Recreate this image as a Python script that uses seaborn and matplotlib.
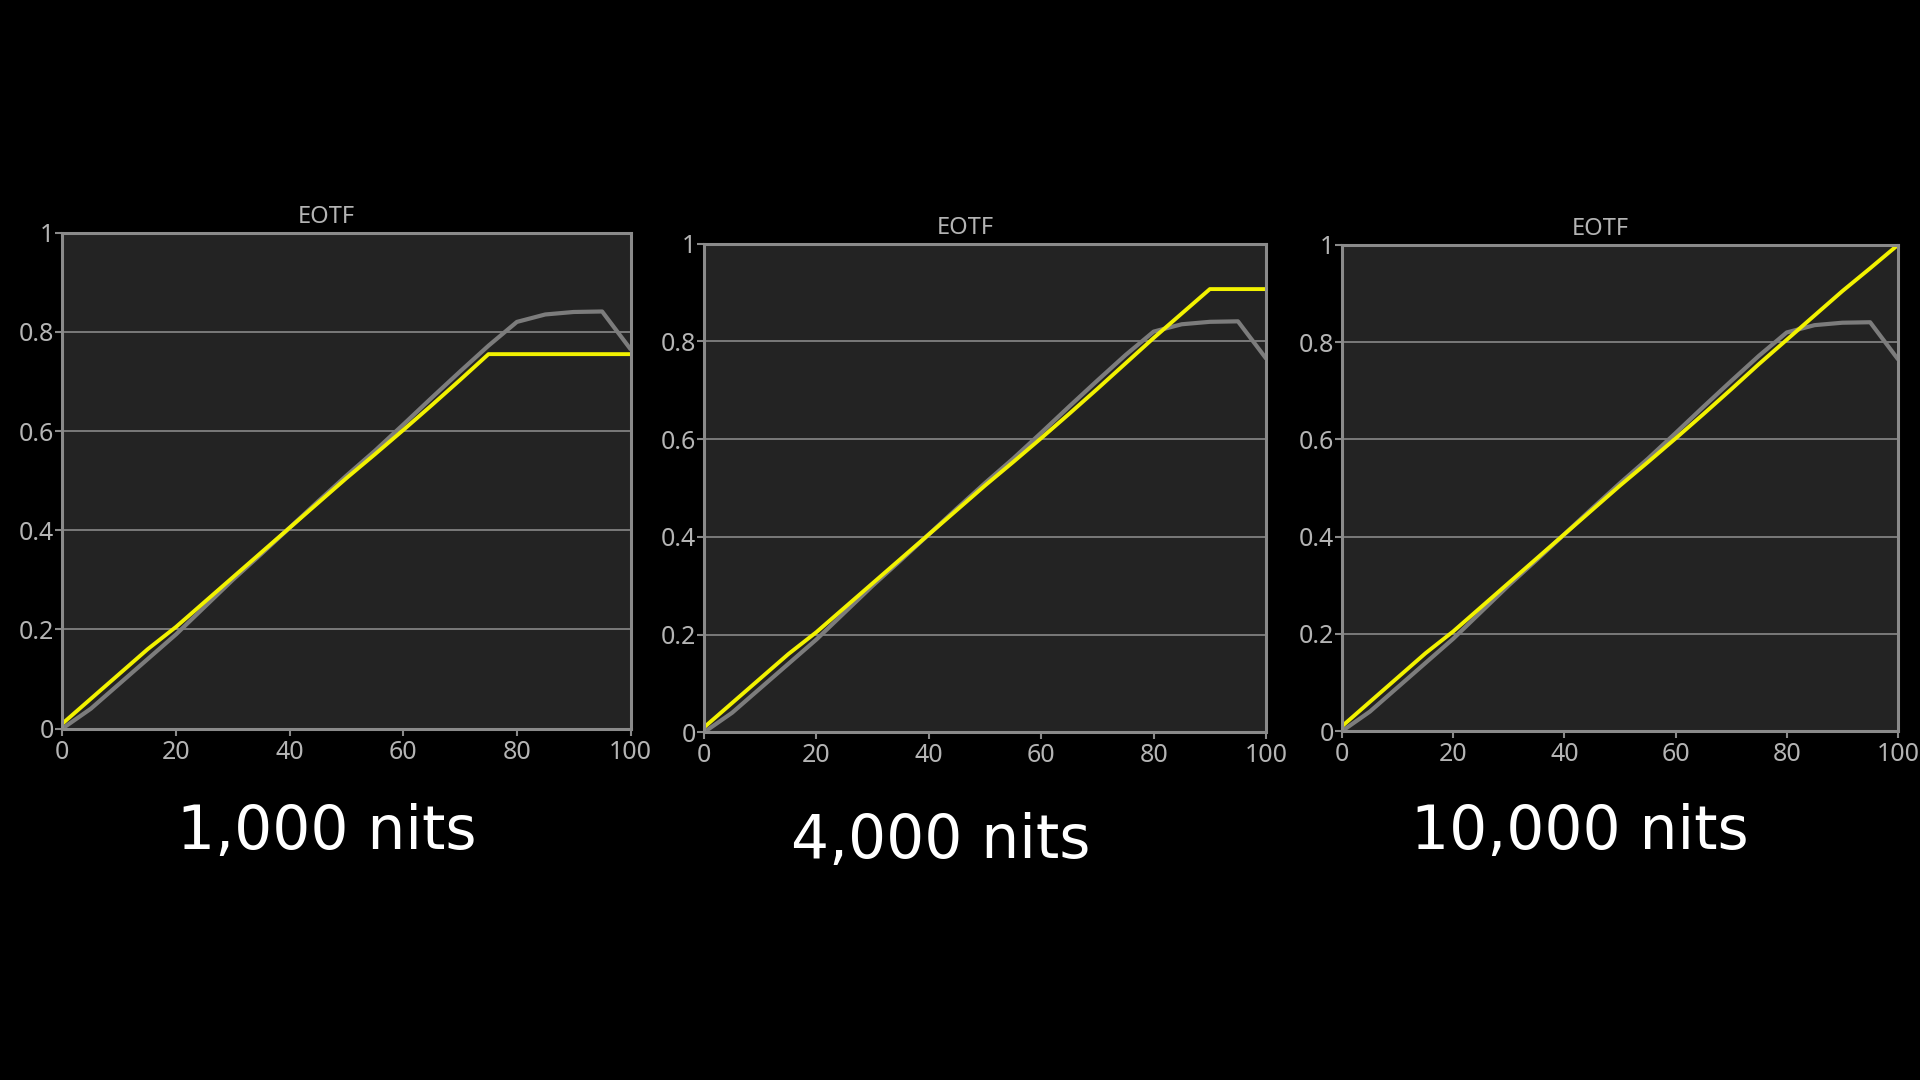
import pandas as pd
import numpy as np
import matplotlib
matplotlib.use('Agg')
import matplotlib.pyplot as plt
import seaborn as sns

# data (input % vs normalised output)
x_pct = [0, 5, 10, 15, 20, 25, 30, 35, 40, 45, 50, 55, 60, 65, 70, 75, 80, 85, 90, 95, 100]
measured = [0.0, 0.04, 0.09, 0.14, 0.19, 0.245, 0.30, 0.352, 0.405, 0.458, 0.51, 0.56,
            0.613, 0.667, 0.72, 0.772, 0.82, 0.835, 0.84, 0.841, 0.765]
target_1000 = [0.01, 0.06, 0.11, 0.16, 0.205, 0.255, 0.305, 0.355, 0.405, 0.455, 0.505, 0.553,
               0.602, 0.652, 0.703, 0.755, 0.755, 0.755, 0.755, 0.755, 0.755]
target_4000 = [0.01, 0.06, 0.11, 0.16, 0.205, 0.255, 0.305, 0.355, 0.405, 0.455, 0.505, 0.553,
               0.602, 0.652, 0.703, 0.755, 0.807, 0.857, 0.907, 0.907, 0.907]
target_10000 = [0.01, 0.06, 0.11, 0.16, 0.205, 0.255, 0.305, 0.355, 0.405, 0.455, 0.505, 0.553,
                0.602, 0.652, 0.703, 0.755, 0.805, 0.855, 0.905, 0.952, 1.0]

panel_names = ['1,000 nits', '4,000 nits', '10,000 nits']
panel_targets = [target_1000, target_4000, target_10000]
x_ticks = [0, 20, 40, 60, 80, 100]
y_ticks = [0, 0.2, 0.4, 0.6, 0.8, 1.0]
y_tick_labels = ['0', '0.2', '0.4', '0.6', '0.8', '1']

sns.set_style('dark')
plt.rcParams['font.family'] = ['Noto Sans', 'DejaVu Sans']

fig = plt.figure(figsize=(19.2, 10.8), dpi=100, facecolor='black')

# axes boxes in figure fractions, plus title / caption spots
boxes = [
    [0.0325, 0.3254, 0.2959, 0.4592],
    [0.3667, 0.3220, 0.2927, 0.4524],
    [0.6990, 0.3231, 0.2895, 0.4501],
]
caption_pos = [(0.1703, 0.229), (0.4898, 0.221), (0.8227, 0.229)]

frame_col = '#8a8a8a'
text_col = '#b4b4b4'

for box, name, target, cap in zip(boxes, panel_names, panel_targets, caption_pos):
    ax = fig.add_axes(box)
    ax.set_facecolor('#232323')
    df = pd.DataFrame({'x': x_pct, 'measured': measured, 'target': target})

    sns.lineplot(data=df, x='x', y='measured', ax=ax, color='#7c7c7c', linewidth=3.0)
    sns.lineplot(data=df, x='x', y='target', ax=ax, color='#f2f200', linewidth=2.8)

    ax.set_xlim(0, 100)
    ax.set_ylim(0, 1)
    ax.set_xticks(x_ticks)
    ax.set_yticks(y_ticks)
    ax.set_yticklabels(y_tick_labels)
    ax.set_xlabel('')
    ax.set_ylabel('')
    ax.grid(False)
    for yv in y_ticks[1:-1]:
        ax.axhline(yv, color='#7a7a7a', linewidth=1.4, zorder=0.5)

    for sp in ax.spines.values():
        sp.set_visible(True)
        sp.set_color(frame_col)
        sp.set_linewidth(2.2)
    ax.tick_params(axis='both', colors=frame_col, labelcolor=text_col,
                   labelsize=18, length=5, width=1.5, direction='out', pad=3,
                   bottom=True, left=True)
    ax.tick_params(axis='y', pad=1)
    ax.set_title('EOTF', color=text_col, fontsize=17, pad=7, x=0.464)

    fig.text(cap[0], cap[1], name, color='white', fontsize=43,
             family='DejaVu Sans', ha='center', va='center')

fig.savefig('out.png', dpi=100, facecolor='black')
